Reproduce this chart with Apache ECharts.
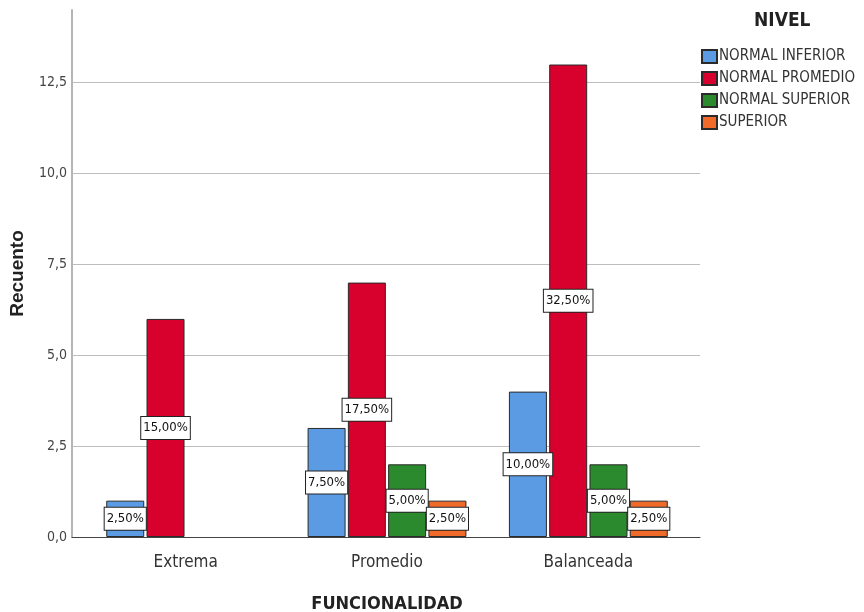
<!DOCTYPE html>
<html>
<head>
<meta charset="utf-8">
<script src="https://cdn.jsdelivr.net/npm/echarts@6/dist/echarts.min.js"></script>
<style>
html,body{margin:0;padding:0;background:#fff;}
#chart{width:864px;height:612px;}
</style>
</head>
<body>
<div id="chart"></div>
<script>
var categories = ['Extrema', 'Promedio', 'Balanceada'];
var seriesNames = ['NORMAL INFERIOR', 'NORMAL PROMEDIO', 'NORMAL SUPERIOR', 'SUPERIOR'];
var normalInferior = [1, 3, 4];
var normalPromedio = [6, 7, 13];
var normalSuperior = [null, 2, 2];
var superior = [null, 1, 1];
var colors = ['#5B9BE4', '#D8002C', '#2B8A2D', '#F06A2A'];
var yTicks = { min: 0, max: 14.5, interval: 2.5 };

var allValues = [normalInferior, normalPromedio, normalSuperior, superior];
var total = 0;
allValues.forEach(function (arr) { arr.forEach(function (v) { if (v) total += v; }); });

var FONT = '"Liberation Sans Narrow", "Arial Narrow", "DejaVu Sans Condensed", sans-serif';

function pctLabel(p) {
  if (p.value == null) return '';
  return (p.value / total * 100).toFixed(2).replace('.', ',') + '%';
}

var chart = echarts.init(document.getElementById('chart'), null, { renderer: 'canvas' });

var series = allValues.map(function (arr, i) {
  return {
    name: seriesNames[i],
    type: 'bar',
    xAxisIndex: 1,
    yAxisIndex: 1,
    data: arr,
    barWidth: 38,
    barGap: '6%',
    itemStyle: { color: colors[i], borderColor: '#2a2a2a', borderWidth: 1 },
    label: {
      show: true,
      position: 'inside',
      formatter: pctLabel,
      fontFamily: FONT,
      fontSize: 13,
      color: '#111',
      backgroundColor: '#fff',
      borderColor: '#222',
      borderWidth: 1,
      padding: [5, 2, 4, 2]
    },
    emphasis: { disabled: true },
    animation: false
  };
});

chart.setOption({
  animation: false,
  backgroundColor: '#fff',
  title: {
    text: 'NIVEL',
    left: 749,
    top: 7,
    textStyle: { fontFamily: FONT, fontWeight: 'bold', fontSize: 19, color: '#222' }
  },
  legend: {
    data: seriesNames,
    orient: 'vertical',
    left: 696,
    top: 44,
    itemWidth: 15,
    itemHeight: 13,
    itemGap: 7,
    icon: 'rect',
    selectedMode: false,
    textStyle: { fontFamily: FONT, fontSize: 15, color: '#333', padding: [0, 0, 0, -3] }
  },
  grid: [
    { left: 72, right: 164, top: 10, bottom: 75, containLabel: false, outerBoundsMode: 'none' },
    { left: 85, right: 175, top: 10, bottom: 75, containLabel: false, outerBoundsMode: 'none' }
  ],
  xAxis: [
    {
      gridIndex: 0, type: 'value', min: 0, max: 1,
      axisLine: { show: true, lineStyle: { color: '#444', width: 1 } },
      axisTick: { show: false }, axisLabel: { show: false }, splitLine: { show: false }
    },
    {
      gridIndex: 1, type: 'category', data: categories,
      axisLine: { show: false }, axisTick: { show: false },
      axisLabel: { fontFamily: FONT, fontSize: 17, color: '#333', margin: 17 },
      name: 'FUNCIONALIDAD', nameLocation: 'middle', nameGap: 58,
      nameTextStyle: { fontFamily: FONT, fontWeight: 'bold', fontSize: 18, color: '#222' }
    }
  ],
  yAxis: [
    {
      gridIndex: 0, type: 'value', min: yTicks.min, max: yTicks.max, interval: yTicks.interval,
      axisLine: { show: true, lineStyle: { color: '#b5b5b5', width: 2 } },
      axisTick: { show: false },
      axisLabel: {
        fontFamily: FONT, fontSize: 14, color: '#444', margin: 5, showMaxLabel: false,
        formatter: function (v) { return v.toFixed(1).replace('.', ','); }
      },
      splitLine: { show: true, showMinLine: false, showMaxLine: false, lineStyle: { color: '#bdbdbd', width: 1 } },
      name: 'Recuento', nameLocation: 'middle', nameGap: 45, nameRotate: 90,
      nameTextStyle: { fontFamily: 'Liberation Sans, Arial, sans-serif', fontWeight: 'bold', fontSize: 19, color: '#222' }
    },
    {
      gridIndex: 1, type: 'value', min: yTicks.min, max: yTicks.max, interval: yTicks.interval,
      show: false, splitLine: { show: false }
    }
  ],
  series: series
});
</script>
</body>
</html>
